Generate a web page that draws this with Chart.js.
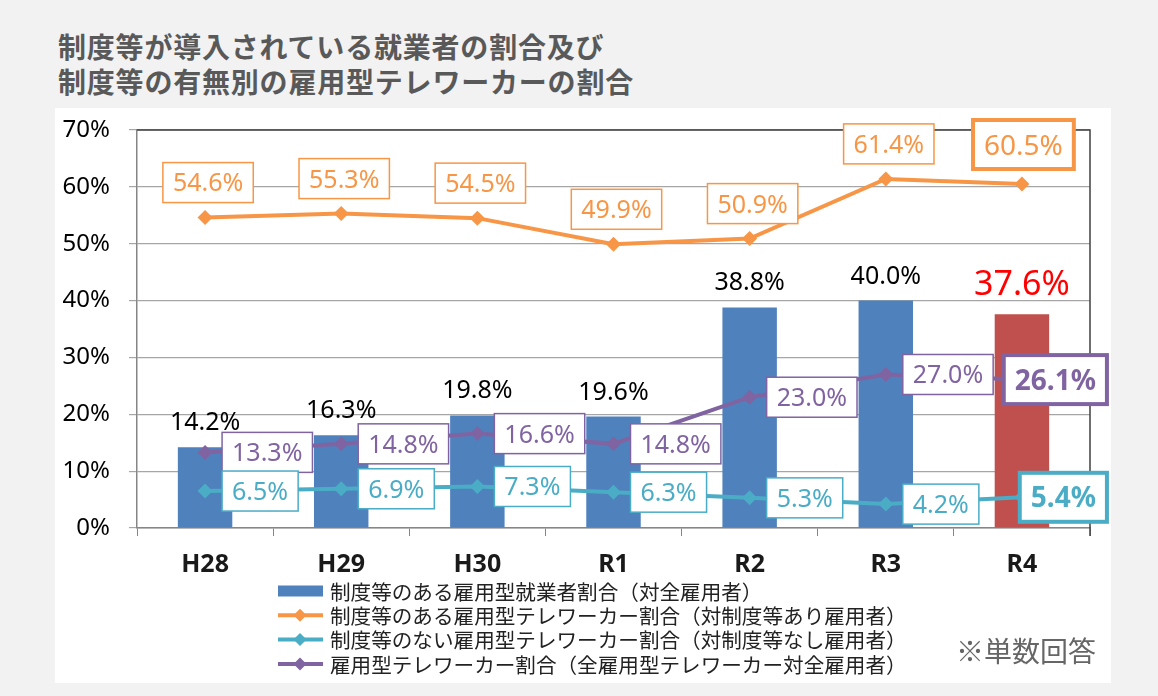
<!DOCTYPE html>
<html><head><meta charset="utf-8">
<script src="https://cdn.jsdelivr.net/npm/chart.js@4.4.1/dist/chart.umd.min.js"></script>
<style>
html,body{margin:0;padding:0;background:#f2f2f2;width:1158px;height:696px;overflow:hidden;font-family:"Noto Sans CJK JP",sans-serif;}
#panel{position:absolute;left:55px;top:108px;width:1056px;height:575px;background:#fff;}
#title{position:absolute;left:58px;top:29px;color:#595959;font-weight:bold;font-size:28px;line-height:35px;letter-spacing:0.8px;white-space:nowrap;}
#wrap{position:absolute;left:0;top:0;width:1158px;height:696px;}
#note{position:absolute;left:956px;top:632px;font-size:28px;line-height:36px;color:#666;white-space:nowrap;}
</style></head>
<body>
<div id="panel"></div>
<div id="title">制度等が導入されている就業者の割合及び<br>制度等の有無別の雇用型テレワーカーの割合</div>
<div id="wrap"><canvas id="c" width="1158" height="696"></canvas></div>
<div id="note">※単数回答</div>
<script>
const categories = ['H28','H29','H30','R1','R2','R3','R4'];
const barValues = [14.2,16.3,19.8,19.6,38.8,40.0,37.6];
const orangeValues = [54.6,55.3,54.5,49.9,50.9,61.4,60.5];
const cyanValues = [6.5,6.9,7.3,6.3,5.3,4.2,5.4];
const purpleValues = [13.3,14.8,16.6,14.8,23.0,27.0,26.1];
const yTickValues = [0,10,20,30,40,50,60,70];
const seriesNames = [
  '制度等のある雇用型就業者割合（対全雇用者）',
  '制度等のある雇用型テレワーカー割合（対制度等あり雇用者）',
  '制度等のない雇用型テレワーカー割合（対制度等なし雇用者）',
  '雇用型テレワーカー割合（全雇用型テレワーカー対全雇用者）'
];

const BLUE = '#4f81bd', RED = '#c0504d', ORANGE = '#f79646', CYAN = '#4bacc6', PURPLE = '#8064a2';
const NUM_FONT = '"Noto Sans", sans-serif';
const JP_FONT = '"Noto Sans CJK JP", sans-serif';

function fmt(v){ return v.toFixed(1) + '%'; }

function boxLabel(ctx, text, px, py, color, mode, emph) {
  const size = emph ? 28 : 25;
  const weight = (emph && mode === 'right') ? 'bold ' : '';
  ctx.font = weight + size + 'px ' + NUM_FONT;
  const tw = ctx.measureText(text).width;
  const padX = emph ? 11 : 10;
  const w = tw + padX * 2;
  const h = emph ? 49 : 40;
  let cx, cy;
  if (mode === 'above') {
    cx = px + (emph ? 1.5 : 3);
    cy = py - 15 - h / 2;
  } else {
    cx = emph ? px + 85 - w / 2 : px + 17 + w / 2;
    cy = py;
  }
  const bw = emph ? 4 : 1.5;
  ctx.save();
  ctx.fillStyle = '#fff';
  ctx.fillRect(cx - w/2, cy - h/2, w, h);
  ctx.strokeStyle = color;
  ctx.lineWidth = bw;
  ctx.strokeRect(cx - w/2, cy - h/2, w, h);
  ctx.fillStyle = color;
  ctx.textAlign = 'center';
  ctx.textBaseline = 'alphabetic';
  ctx.fillText(text, cx, cy + size * 0.357);
  ctx.restore();
}

const customPlugin = {
  id: 'custom',
  beforeDatasetsDraw(chart) {
    const {ctx, chartArea: a} = chart;
    ctx.save();
    ctx.strokeStyle = '#404040';
    ctx.lineWidth = 1.5;
    ctx.beginPath();
    ctx.moveTo(a.left, a.top); ctx.lineTo(a.right, a.top); ctx.lineTo(a.right, a.bottom + 8);
    ctx.stroke();
    ctx.restore();
  },
  afterDatasetsDraw(chart) {
    const ctx = chart.ctx;
    const bm = chart.getDatasetMeta(0);
    bm.data.forEach((el, i) => {
      const last = i === barValues.length - 1;
      ctx.save();
      ctx.font = (last ? 34 : 25) + 'px ' + NUM_FONT;
      ctx.fillStyle = last ? '#ff0000' : '#000';
      ctx.textAlign = 'center';
      ctx.textBaseline = 'alphabetic';
      ctx.fillText(fmt(barValues[i]), el.x, el.y - (last ? 19 : 17));
      ctx.restore();
    });
    const specs = [
      {idx: 1, vals: orangeValues, color: ORANGE, mode: 'above'},
      {idx: 3, vals: purpleValues, color: PURPLE, mode: 'right'},
      {idx: 2, vals: cyanValues, color: CYAN, mode: 'right'}
    ];
    specs.forEach(s => {
      const meta = chart.getDatasetMeta(s.idx);
      meta.data.forEach((el, i) => {
        boxLabel(ctx, fmt(s.vals[i]), el.x, el.y, s.color, s.mode, i === s.vals.length - 1);
      });
    });
  },
  afterDraw(chart) {
    const ctx = chart.ctx;
    const colors = [BLUE, ORANGE, CYAN, PURPLE];
    ctx.save();
    seriesNames.forEach((name, i) => {
      const y = 591 + i * 24.3;
      if (i === 0) {
        ctx.fillStyle = BLUE;
        ctx.fillRect(278, y - 5.5, 45, 11);
      } else {
        ctx.strokeStyle = colors[i];
        ctx.lineWidth = 4;
        ctx.beginPath(); ctx.moveTo(278, y); ctx.lineTo(323, y); ctx.stroke();
        ctx.fillStyle = colors[i];
        ctx.beginPath();
        ctx.moveTo(300 - 6.5, y); ctx.lineTo(300, y - 6.5); ctx.lineTo(300 + 6.5, y); ctx.lineTo(300, y + 6.5);
        ctx.closePath(); ctx.fill();
      }
      ctx.fillStyle = '#222';
      ctx.font = '20.6px ' + JP_FONT;
      ctx.textAlign = 'left';
      ctx.textBaseline = 'middle';
      ctx.fillText(name, 330, y + 1);
    });
    ctx.restore();
  }
};

new Chart(document.getElementById('c'), {
  data: {
    labels: categories,
    datasets: [
      { type: 'bar', label: seriesNames[0], data: barValues,
        backgroundColor: barValues.map((v, i) => i === barValues.length - 1 ? RED : BLUE),
        barPercentage: 0.5, categoryPercentage: 0.8, order: 10 },
      { type: 'line', label: seriesNames[1], data: orangeValues, borderColor: ORANGE, backgroundColor: ORANGE,
        borderWidth: 4, pointStyle: 'rectRot', pointRadius: 7.5, pointBorderWidth: 0, tension: 0, order: 1 },
      { type: 'line', label: seriesNames[2], data: cyanValues, borderColor: CYAN, backgroundColor: CYAN,
        borderWidth: 4, pointStyle: 'rectRot', pointRadius: 7.5, pointBorderWidth: 0, tension: 0, order: 2 },
      { type: 'line', label: seriesNames[3], data: purpleValues, borderColor: PURPLE, backgroundColor: PURPLE,
        borderWidth: 4, pointStyle: 'rectRot', pointRadius: 7.5, pointBorderWidth: 0, tension: 0, order: 3 }
    ]
  },
  options: {
    responsive: false,
    animation: false,
    devicePixelRatio: 1,
    layout: { padding: { left: 0, top: 130, right: 68, bottom: 108 } },
    plugins: { legend: { display: false }, tooltip: { enabled: false }, title: { display: false } },
    scales: {
      x: {
        offset: true,
        grid: { drawOnChartArea: false, drawTicks: true, tickLength: 8, color: '#868686', offset: true },
        border: { display: true, color: '#868686', width: 1.5 },
        ticks: { color: '#1a1a1a', font: { family: NUM_FONT, size: 25, weight: 'bold' }, padding: 14, maxRotation: 0 },
        afterFit(s) { s.height = 60; }
      },
      y: {
        min: 0, max: 70,
        afterBuildTicks(s) { s.ticks = yTickValues.map(v => ({ value: v })); },
        grid: { color: '#a6a6a6', lineWidth: 1.2, tickLength: 8, drawTicks: true },
        border: { display: true, color: '#868686', width: 1.5 },
        ticks: { color: '#000', font: { family: NUM_FONT, size: 24 }, padding: 19, callback: v => v + '%' },
        afterFit(s) { s.width = 137; }
      }
    }
  },
  plugins: [customPlugin]
});
</script>
</body></html>
